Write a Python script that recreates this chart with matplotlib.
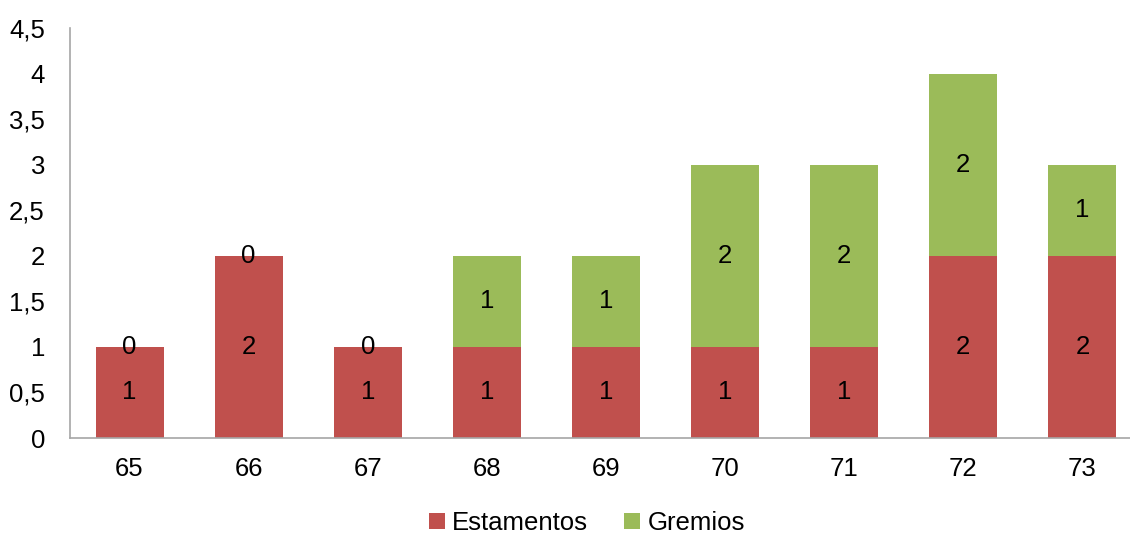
import matplotlib.pyplot as plt
import numpy as np

plt.rcParams['font.family'] = ['Liberation Sans', 'DejaVu Sans']

# Data
years = ['65', '66', '67', '68', '69', '70', '71', '72', '73']
estamentos = [1, 2, 1, 1, 1, 1, 1, 2, 2]
gremios = [0, 0, 0, 1, 1, 2, 2, 2, 1]

red = '#C0504D'
green = '#9BBB59'
fs = 18.5

fig = plt.figure(figsize=(11.3, 5.36), dpi=100)
ax = fig.add_axes([70 / 1130, 98 / 536, 1072 / 1130, 410 / 536])

x = np.arange(len(years))
w = 0.57
b1 = ax.bar(x, estamentos, w, color=red, label='Estamentos')
b2 = ax.bar(x, gremios, w, bottom=estamentos, color=green, label='Gremios')

# Value labels in the middle of each segment
for i in range(len(years)):
    ax.text(x[i], estamentos[i] / 2, str(estamentos[i]),
            ha='center', va='center', fontsize=fs)
    ax.text(x[i], estamentos[i] + gremios[i] / 2, str(gremios[i]),
            ha='center', va='center', fontsize=fs)

ax.set_xlim(-0.5, len(years) - 0.5)
ax.set_ylim(0, 4.5)
ax.set_yticks(np.arange(0, 4.51, 0.5))
ax.set_yticklabels([f'{v:g}'.replace('.', ',') for v in np.arange(0, 4.51, 0.5)])
ax.set_xticks(x)
ax.set_xticklabels(years)
ax.tick_params(length=0, labelsize=fs)
ax.tick_params(axis='x', pad=14)
ax.tick_params(axis='y', pad=18)

for s in ['top', 'right']:
    ax.spines[s].set_visible(False)
for s in ['left', 'bottom']:
    ax.spines[s].set_color('#A6A6A6')
    ax.spines[s].set_linewidth(1.2)

fig.legend(handles=[b1, b2], loc='center', bbox_to_anchor=(587 / 1130, 1 - 523 / 536),
           ncol=2, frameon=False, fontsize=fs, handlelength=0.6, handleheight=0.6,
           handletextpad=0.3, columnspacing=1.4)

fig.savefig('out.png', dpi=100)
